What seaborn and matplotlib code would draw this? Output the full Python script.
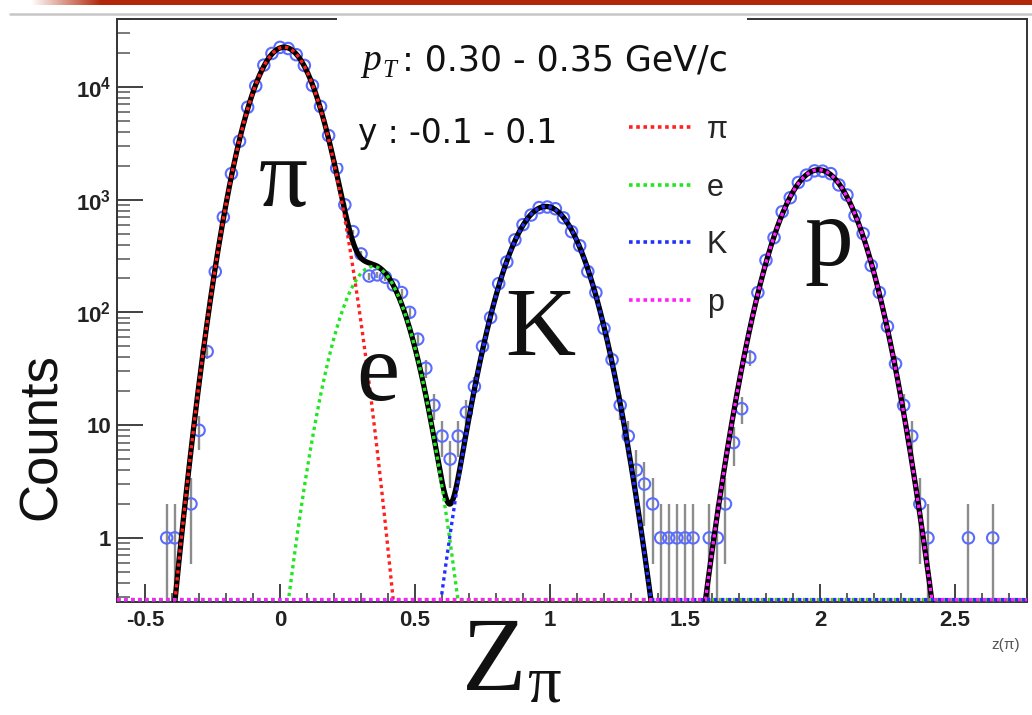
import numpy as np
import pandas as pd
import matplotlib
matplotlib.use("Agg")
import matplotlib.pyplot as plt
from matplotlib.patches import Rectangle
from matplotlib.lines import Line2D
from matplotlib.ticker import FixedLocator, FixedFormatter, LogLocator, NullFormatter, MultipleLocator
import seaborn as sns

# ---------------- data ----------------
z_bins = [-0.42, -0.39, -0.33, -0.30, -0.27, -0.24, -0.21, -0.18, -0.15, -0.12,
          -0.09, -0.06, -0.03, 0.00, 0.03, 0.06, 0.09, 0.12, 0.15, 0.18,
          0.21, 0.24, 0.27, 0.30, 0.33, 0.36, 0.39, 0.42, 0.45, 0.48,
          0.51, 0.54, 0.57, 0.60, 0.63, 0.66, 0.69, 0.72, 0.75, 0.78,
          0.81, 0.84, 0.87, 0.90, 0.93, 0.96, 0.99, 1.02, 1.05, 1.08,
          1.11, 1.14, 1.17, 1.20, 1.23, 1.26, 1.29, 1.32, 1.35, 1.38,
          1.41, 1.44, 1.47, 1.50, 1.53, 1.59, 1.62, 1.65, 1.68, 1.71,
          1.74, 1.77, 1.80, 1.83, 1.86, 1.89, 1.92, 1.95, 1.98, 2.01,
          2.04, 2.07, 2.10, 2.13, 2.16, 2.19, 2.22, 2.25, 2.28, 2.31,
          2.34, 2.37, 2.40, 2.55, 2.64]
counts = [1, 1, 2, 9, 45, 230, 700, 1700, 3300, 6600,
          10200, 15600, 19800, 22400, 21900, 19300, 15500, 10300, 6700, 3700,
          1900, 900, 520, 330, 210, 215, 205, 175, 150, 100,
          58, 32, 15, 8, 5, 8, 13, 22, 50, 90,
          180, 280, 440, 600, 730, 850, 860, 830, 690, 520,
          390, 230, 150, 72, 38, 15, 8, 4, 3, 2,
          1, 1, 1, 1, 1, 1, 1, 2, 7, 14,
          40, 150, 290, 460, 780, 1040, 1420, 1650, 1800, 1790,
          1700, 1350, 1100, 720, 500, 260, 150, 75, 35, 15,
          8, 2, 1, 1, 1]

species = ["π", "e", "K", "p"]
fit_amp = [22500, 255, 870, 1840]
fit_mean = [0.015, 0.345, 0.985, 1.995]
fit_sigma = [0.085, 0.085, 0.097, 0.100]
fit_colors = ["#ff2020", "#22e622", "#2030ff", "#ff20ff"]

x_ticks = [-0.5, 0, 0.5, 1, 1.5, 2, 2.5]
x_tick_labels = ["-0.5", "0", "0.5", "1", "1.5", "2", "2.5"]
y_ticks = [1, 10, 100, 1000, 10000]
y_tick_labels = ["1", "10", r"$10^{2}$", r"$10^{3}$", r"$10^{4}$"]

# ---------------- style ----------------
sns.set_theme(style="white")
plt.rcParams["font.family"] = ["Liberation Sans", "DejaVu Sans"]
plt.rcParams.update({
    "mathtext.fontset": "custom",
    "mathtext.rm": "Liberation Sans:bold",
    "mathtext.it": "Liberation Sans:bold:italic",
    "mathtext.bf": "Liberation Sans:bold",
})

W, H = 1032, 715
fig = plt.figure(figsize=(W / 100, H / 100), dpi=100)
fig.patch.set_facecolor("white")

def fx(px):
    return px / W

def fy(py):
    return 1 - py / H

ax = fig.add_axes([fx(117), fy(602), (1027 - 117) / W, (602 - 19) / H])
ax.set_facecolor("white")
XMIN, XMAX = -0.604, 2.767
YMIN, YMAX = 0.27, 40000
ax.set_yscale("log")

# ---------------- data points with Poisson error bars ----------------
df = pd.DataFrame({"z": z_bins, "n": counts})
err = np.sqrt(df["n"].to_numpy(float))
lo = np.maximum(df["n"] - err, 1e-3)
hi = df["n"] + err
ax.vlines(df["z"], lo, hi, color="#8c8c8c", lw=1.7, zorder=1.5)
sns.scatterplot(data=df, x="z", y="n", ax=ax, marker="o", s=68,
                facecolors="none", edgecolors="#5a6cff", linewidths=1.5,
                zorder=2, legend=False)

# ---------------- fit functions ----------------
xf = np.linspace(XMIN, XMAX, 1800)
comps = []
for a, m, s in zip(fit_amp, fit_mean, fit_sigma):
    comps.append(a * np.exp(-0.5 * ((xf - m) / s) ** 2))
total = np.sum(comps, axis=0)
sns.lineplot(x=xf, y=total, ax=ax, color="black", lw=3.8, zorder=3,
             estimator=None, sort=False)
for c, col in zip(comps, fit_colors):
    sns.lineplot(x=xf, y=np.maximum(c, YMIN * 1.05), ax=ax, color=col, lw=2.4,
                 linestyle=(0, (1, 1.1)), zorder=4, estimator=None, sort=False)

ax.set_xlim(XMIN, XMAX)
ax.set_ylim(YMIN, YMAX)
ax.set_xlabel("")
ax.set_ylabel("")

# ---------------- axes / ticks ----------------
for side in ["left", "top", "right", "bottom"]:
    ax.spines[side].set_visible(True)
    ax.spines[side].set_color("#333333")
    ax.spines[side].set_linewidth(1.4)

ax.xaxis.set_major_locator(FixedLocator(x_ticks))
ax.xaxis.set_major_formatter(FixedFormatter(x_tick_labels))
ax.xaxis.set_minor_locator(MultipleLocator(0.1))
ax.yaxis.set_major_locator(FixedLocator(y_ticks))
ax.yaxis.set_major_formatter(FixedFormatter(y_tick_labels))
ax.yaxis.set_minor_locator(LogLocator(base=10, subs=np.arange(2, 10)))
ax.yaxis.set_minor_formatter(NullFormatter())
ax.tick_params(axis="x", which="major", direction="in", length=13, width=1.3,
               color="#333333", pad=6, labelsize=16, bottom=True, top=False)
ax.tick_params(axis="x", which="minor", direction="in", length=6.5, width=1.1,
               color="#333333", bottom=True, top=False)
ax.tick_params(axis="y", which="major", direction="in", length=19, width=1.3,
               color="#333333", pad=4, labelsize=16, left=True, right=False)
ax.tick_params(axis="y", which="minor", direction="in", length=9, width=1.1,
               color="#555555", left=True, right=False)
for lab in ax.get_xticklabels() + ax.get_yticklabels():
    lab.set_fontweight("bold")
    lab.set_color("#222222")

# ---------------- slide overlays (white boxes) ----------------
fig.patches.append(Rectangle((fx(337), fy(163)), (747 - 337) / W, (163 - 16) / H,
                             transform=fig.transFigure, facecolor="white",
                             edgecolor="none", zorder=2))
fig.patches.append(Rectangle((fx(615), fy(330)), (747 - 615) / W, (330 - 160) / H,
                             transform=fig.transFigure, facecolor="white",
                             edgecolor="none", zorder=2))

# top decoration: red bar with faded left end and a gray rule
deco = fig.add_axes([fx(30), fy(5), 1 - fx(30), 5 / H])
deco.set_axis_off()
n = 400
t = np.clip(np.linspace(0, 1, n) / 0.07, 0, 1)
red = np.array([0.70, 0.15, 0.04])
grad = np.ones((1, n, 3)) * (1 - t[None, :, None]) + red[None, None, :] * t[None, :, None]
deco.imshow(grad, aspect="auto", extent=[0, 1, 0, 1])
fig.add_artist(Line2D([fx(10), 1], [fy(14), fy(14)], color="#c6c6c6", lw=1.8,
                      transform=fig.transFigure))

# ---------------- texts ----------------
fig.text(fx(42), fy(437), "Counts", rotation=90, fontsize=38, ha="center", va="center",
         family="Liberation Sans", color="#111111")
fig.text(fx(462), fy(690), "Z", fontsize=76, family="Liberation Serif", ha="left",
         va="baseline", color="#111111")
fig.text(fx(527), fy(702), "π", fontsize=48, family="Liberation Serif", ha="left",
         va="baseline", color="#111111")
fig.text(fx(1006), fy(645), "z(π)", fontsize=11, ha="center", va="center", color="#555555")

peak_pos = [(283, 206), (378, 400), (540, 355), (829, 265)]
for lab, (px, py) in zip(species, peak_pos):
    fig.text(fx(px), fy(py), lab, fontsize=70, family="Liberation Serif", ha="center",
             va="baseline", color="#111111")

fig.text(fx(362), fy(70), "p", fontsize=27, family="Liberation Serif", style="italic",
         ha="left", va="baseline", color="#111111")
fig.text(fx(382), fy(77), "T", fontsize=18, family="Liberation Serif", style="italic",
         ha="left", va="baseline", color="#111111")
fig.text(fx(402), fy(71), ": 0.30 - 0.35 GeV/c", fontsize=25, family="DejaVu Sans",
         ha="left", va="baseline", color="#111111")
fig.text(fx(358), fy(143), "y : -0.1 - 0.1", fontsize=23.5, family="DejaVu Sans",
         ha="left", va="baseline", color="#111111")

handles = [Line2D([], [], color=c, lw=2.6, linestyle=(0, (1, 1))) for c in fit_colors]
leg = fig.legend(handles, species, loc="upper left", bbox_to_anchor=(fx(629), fy(115)),
                 frameon=False, fontsize=22, handlelength=2.1, handletextpad=0.45,
                 labelspacing=0.9, borderaxespad=0, borderpad=0)
leg.set_zorder(5)

fig.savefig("out.png", dpi=100, facecolor="white")
